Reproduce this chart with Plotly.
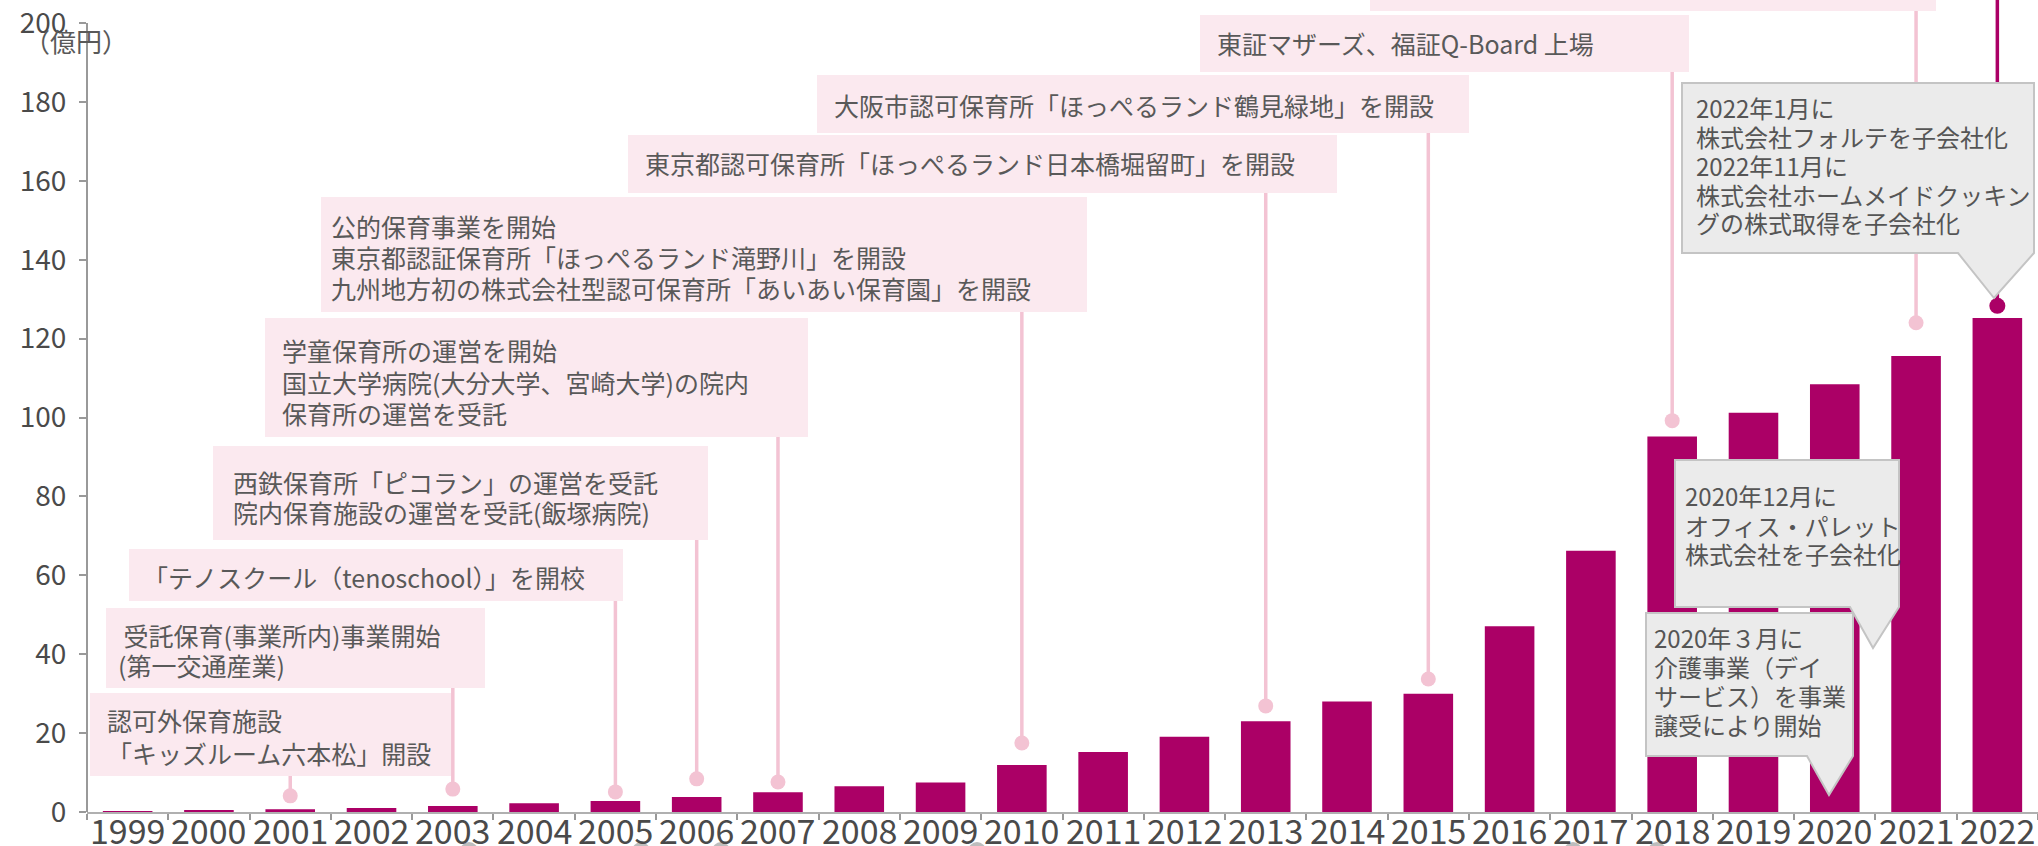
import plotly.graph_objects as go

# ---------------- data ----------------
years = [str(y) for y in range(1999, 2023)]
revenue = [0.1, 0.3, 0.7, 1.0, 1.5, 2.2, 2.8, 3.8, 5.0, 6.5, 7.5, 11.9,
           15.2, 19.1, 23.0, 28.0, 30.0, 47.1, 66.2, 95.2, 101.2, 108.4, 115.6, 125.2]
y_ticks = [0, 20, 40, 60, 80, 100, 120, 140, 160, 180, 200]
unit_label = "（億円）"

event_years = ["2001", "2003", "2005", "2006", "2007", "2010", "2013", "2015", "2018", "2021"]
event_values = [4.1, 5.8, 5.1, 8.4, 7.6, 17.5, 26.9, 33.7, 99.2, 124.0]
event_texts = [
    ["認可外保育施設", "「キッズルーム六本松」開設"],
    [" 受託保育(事業所内)事業開始", "(第一交通産業)"],
    ["「テノスクール（tenoschool）」を開校"],
    ["西鉄保育所「ピコラン」の運営を受託", "院内保育施設の運営を受託(飯塚病院)"],
    ["学童保育所の運営を開始", "国立大学病院(大分大学、宮崎大学)の院内", "保育所の運営を受託"],
    ["公的保育事業を開始", "東京都認証保育所「ほっぺるランド滝野川」を開設",
     "九州地方初の株式会社型認可保育所「あいあい保育園」を開設"],
    ["東京都認可保育所「ほっぺるランド日本橋堀留町」を開設"],
    ["大阪市認可保育所「ほっぺるランド鶴見緑地」を開設"],
    ["東証マザーズ、福証Q-Board 上場"],
    [],
]
highlight_year = "2022"
highlight_value = 128.3

callout_texts = [
    ["2022年1月に", "株式会社フォルテを子会社化", "2022年11月に", "株式会社ホームメイドクッキン", "グの株式取得を子会社化"],
    ["2020年12月に", "オフィス・パレット", "株式会社を子会社化"],
    ["2020年３月に", "介護事業（デイ", "サービス）を事業", "譲受により開始"],
]

# ---------------- layout geometry (pixels) ----------------
W, H = 2038, 846
ML, MR, MT, MB = 87, 0, 0, 34
PW, PH = W - ML - MR, H - MT - MB
PX_PER_UNIT = 3.945
Y_TOP = PH / PX_PER_UNIT

def px(x):
    return (x - ML) / PW

def py(y):
    return (MT + PH - y) / PH

def val(y):
    return (MT + PH - y) / PX_PER_UNIT

# pink boxes: x0, top, x1, bottom, text x, line centres
boxes = [
    (90, 693, 451, 776, [105, 105], [720, 753]),
    (106, 608, 485, 688, [116, 116], [635, 665]),
    (129, 549, 623, 601, [141], [577]),
    (213, 446, 708, 540, [231, 231], [482, 512]),
    (265, 318, 808, 437, [280, 280, 280], [350, 382, 413]),
    (321, 197, 1087, 312, [329, 329, 329], [226, 257, 288]),
    (628, 135, 1337, 193, [643], [163]),
    (817, 75, 1469, 133, [832], [105]),
    (1200, 15, 1689, 72, [1215], [43]),
    (1370, -10, 1936, 11, [], []),
]

# gray callouts: x0, top, x1, bottom, tail (left, tipx, tipy, right), text x, line centres
callouts = [
    (1682, 83, 2034, 253, (1958, 1994, 298, 2034), 1694, [107, 136, 165, 194, 223]),
    (1675, 460, 1899, 607, (1850, 1873, 648, 1899), 1683, [496, 525, 553]),
    (1646, 613, 1853, 756, (1807, 1829, 795, 1853), 1652, [637, 666, 695, 724]),
]
gray_marks = [469, 641, 721, 977, 1573, 1657]

BAR = "#AB0066"
PIN = "#F3C3D3"
BOXFILL = "#FBE9EF"
TXT = "#595959"
FONT = "Noto Sans CJK JP"

fig = go.Figure()
fig.add_trace(go.Bar(x=years, y=revenue, marker=dict(color=BAR, line=dict(width=0)),
                     hoverinfo="x+y"))

# pin lines (one trace per event so no empty categories are created)
for yr, v, b in zip(event_years, event_values, boxes):
    fig.add_trace(go.Scatter(x=[yr, yr], y=[v, val(b[3])], mode="lines",
                             line=dict(color=PIN, width=3.5), hoverinfo="skip"))
fig.add_trace(go.Scatter(x=event_years, y=event_values, mode="markers",
                         marker=dict(color=PIN, size=15), hoverinfo="skip"))
fig.add_trace(go.Scatter(x=[highlight_year, highlight_year], y=[highlight_value, Y_TOP],
                         mode="lines", line=dict(color=BAR, width=3.5), hoverinfo="skip"))
fig.add_trace(go.Scatter(x=[highlight_year], y=[highlight_value], mode="markers",
                         marker=dict(color=BAR, size=16), hoverinfo="skip"))

shapes = []
annotations = []
for (x0, t, x1, b, txs, lys), lines in zip(boxes, event_texts):
    shapes.append(dict(type="rect", xref="paper", yref="paper", x0=px(x0), x1=px(x1),
                       y0=py(b), y1=py(t), fillcolor=BOXFILL, line=dict(width=0), layer="above"))
    for i, (tx, ly_) in enumerate(zip(txs, lys)):
        annotations.append(dict(xref="paper", yref="paper", x=px(tx), y=py(ly_), xanchor="left",
                                yanchor="middle", text=lines[i], showarrow=False,
                                font=dict(family=FONT, size=25, color=TXT)))

for (x0, t, x1, b, tail, tx, lys), lines in zip(callouts, callout_texts):
    tl, tipx, tipy, tr = tail
    pts = [(x0, t), (x1, t), (x1, b), (tr, b), (tipx, tipy), (tl, b), (x0, b)]
    path = "M " + " L ".join(f"{px(a):.5f},{py(c):.5f}" for a, c in pts) + " Z"
    shapes.append(dict(type="path", xref="paper", yref="paper", path=path,
                       fillcolor="#EBEBEB", line=dict(color="#C4C4C4", width=2), layer="above"))
    for line_text, ly_ in zip(lines, lys):
        annotations.append(dict(xref="paper", yref="paper", x=px(tx), y=py(ly_), xanchor="left",
                                yanchor="middle", text=line_text, showarrow=False,
                                font=dict(family=FONT, size=24, color="#555555")))

for gx in gray_marks:
    shapes.append(dict(type="circle", xref="paper", yref="paper", x0=px(gx - 9), x1=px(gx + 9),
                       y0=py(860), y1=py(842), fillcolor="#BDBDBD", line=dict(width=0)))

# y axis line up to 200
shapes.append(dict(type="line", xref="paper", yref="y", x0=0, x1=0, y0=0, y1=200,
                   line=dict(color="#999999", width=2)))

# x tick labels as text under each category (positioned by category index)
for i, yr in enumerate(years):
    annotations.append(dict(xref="paper", yref="paper", x=(i + 0.5) / len(years), y=py(829),
                            xanchor="center", yanchor="middle", text=yr, showarrow=False,
                            font=dict(family=FONT, size=34, color="#4A4A4A")))

annotations.append(dict(xref="paper", yref="paper", x=px(22), y=py(40), xanchor="left",
                        yanchor="middle", text=unit_label, showarrow=False,
                        font=dict(family=FONT, size=26, color=TXT)))

fig.update_layout(
    width=W, height=H,
    margin=dict(l=ML, r=MR, t=MT, b=MB, pad=0, autoexpand=False),
    paper_bgcolor="white", plot_bgcolor="white",
    showlegend=False, bargap=0.39,
    shapes=shapes, annotations=annotations,
    xaxis=dict(type="category", categoryorder="array", categoryarray=years,
               range=[-0.5, len(years) - 0.5],
               tickson="boundaries", ticks="outside", ticklen=6, showticklabels=False,
               automargin=False,
               tickcolor="#999999", tickwidth=1.5, showline=True, linecolor="#B0B0B0",
               linewidth=2, showgrid=False, zeroline=False),
    yaxis=dict(range=[0, Y_TOP], tickvals=y_ticks, ticks="outside", ticklen=7,
               automargin=False, ticklabelstandoff=7,
               tickcolor="#999999", tickwidth=1.5, showline=False, showgrid=False,
               zeroline=False, tickfont=dict(family=FONT, size=28, color="#4A4A4A")),
)

fig.write_html("out.html")
